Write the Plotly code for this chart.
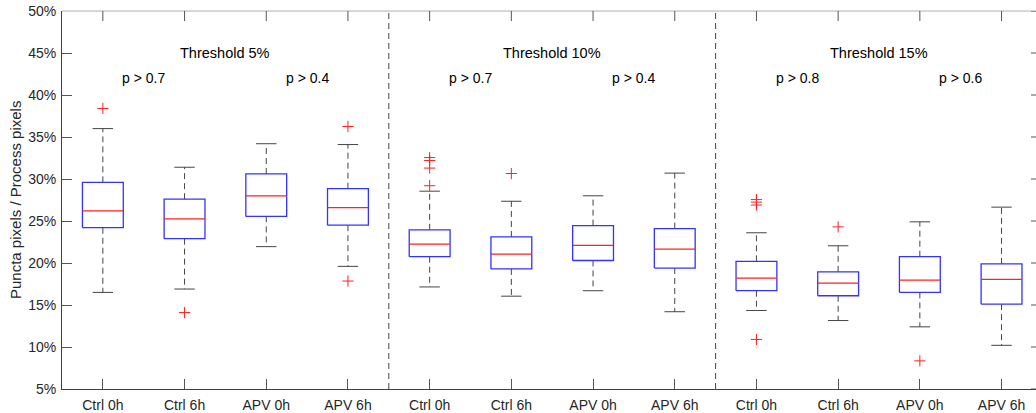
import plotly.graph_objects as go

# ---------------- data (percent) ----------------
categories = ["Ctrl 0h", "Ctrl 6h", "APV 0h", "APV 6h"] * 3
lower_whisker = [16.5, 16.9, 21.95, 19.6,
                 17.15, 16.05, 16.7, 14.2,
                 14.35, 13.15, 12.4, 10.2]
q1 = [24.2, 22.9, 25.55, 24.5,
      20.75, 19.3, 20.3, 19.4,
      16.7, 16.1, 16.5, 15.1]
median = [26.2, 25.25, 28.0, 26.6,
          22.25, 21.05, 22.1, 21.65,
          18.2, 17.6, 17.95, 18.05]
q3 = [29.6, 27.6, 30.6, 28.85,
      23.95, 23.1, 24.45, 24.1,
      20.2, 18.95, 20.75, 19.9]
upper_whisker = [36.0, 31.4, 34.2, 34.1,
                 28.55, 27.35, 28.0, 30.7,
                 23.6, 22.05, 24.9, 26.65]
outliers = [[38.4], [14.1], [], [36.25, 17.85],
            [32.55, 32.2, 31.3, 29.2], [30.65], [], [],
            [27.55, 27.25, 26.9, 10.9], [24.3], [8.35], []]

panel_titles = ["Threshold 5%", "Threshold 10%", "Threshold 15%"]
p_ctrl = ["p > 0.7", "p > 0.7", "p > 0.8"]
p_apv = ["p > 0.4", "p > 0.4", "p > 0.6"]
y_ticks = [5, 10, 15, 20, 25, 30, 35, 40, 45, 50]

# ---------------- geometry helpers ----------------
pos = list(range(1, len(categories) + 1))
BOX_HW = 0.25
CAP_HW = 0.125

box_x, box_y = [], []
med_x, med_y = [], []
wh_x, wh_y = [], []
cap_x, cap_y = [], []
out_x, out_y = [], []
for i, x in enumerate(pos):
    box_x += [x - BOX_HW, x + BOX_HW, x + BOX_HW, x - BOX_HW, x - BOX_HW, None]
    box_y += [q1[i], q1[i], q3[i], q3[i], q1[i], None]
    med_x += [x - BOX_HW, x + BOX_HW, None]
    med_y += [median[i], median[i], None]
    wh_x += [x, x, None, x, x, None]
    wh_y += [q3[i], upper_whisker[i], None, q1[i], lower_whisker[i], None]
    cap_x += [x - CAP_HW, x + CAP_HW, None, x - CAP_HW, x + CAP_HW, None]
    cap_y += [upper_whisker[i], upper_whisker[i], None,
              lower_whisker[i], lower_whisker[i], None]
    for v in outliers[i]:
        out_x.append(x)
        out_y.append(v)

fig = go.Figure()
fig.add_trace(go.Scatter(x=wh_x, y=wh_y, mode="lines",
                         line=dict(color="#444444", width=1, dash="6px,4px"),
                         hoverinfo="skip"))
fig.add_trace(go.Scatter(x=cap_x, y=cap_y, mode="lines",
                         line=dict(color="#444444", width=1),
                         hoverinfo="skip"))
fig.add_trace(go.Scatter(x=box_x, y=box_y, mode="lines",
                         line=dict(color="#3333ff", width=1.3),
                         hoverinfo="skip"))
fig.add_trace(go.Scatter(x=med_x, y=med_y, mode="lines",
                         line=dict(color="#ff2020", width=1.2),
                         hoverinfo="skip"))
fig.add_trace(go.Scatter(x=out_x, y=out_y, mode="markers",
                         marker=dict(symbol="cross-thin", size=8,
                                     line=dict(color="#ff2020", width=1)),
                         hoverinfo="skip"))

FONT = "Liberation Sans, Arial, Helvetica, sans-serif"
PLOT_W = 1036 - 62
PLOT_H = 413 - 11 - 24

shapes = []
# dashed separators between panels
for sep in [4.5, 8.5]:
    shapes.append(dict(type="line", xref="x", yref="paper", x0=sep, x1=sep,
                       y0=0, y1=1, line=dict(color="#444444", width=1,
                                             dash="6px,4px")))
# top border line
shapes.append(dict(type="line", xref="paper", yref="paper", x0=0, x1=1,
                   y0=1, y1=1, line=dict(color="#b0b0b0", width=1)))
# top ticks
for x in pos:
    shapes.append(dict(type="line", xref="x", yref="paper", x0=x, x1=x,
                       y0=1, y1=1 - 10 / PLOT_H,
                       line=dict(color="#555555", width=1)))
# right ticks (axis lies just beyond the image edge)
for t in y_ticks:
    shapes.append(dict(type="line", xref="paper", yref="y",
                       x0=1 - 5 / PLOT_W, x1=1, y0=t, y1=t,
                       line=dict(color="#555555", width=1)))

annotations = []
for k in range(3):
    base = 4 * k
    annotations.append(dict(x=base + 2.5, y=45, xref="x", yref="y",
                            text=panel_titles[k], showarrow=False,
                            font=dict(family=FONT, size=14.5, color="#000")))
    annotations.append(dict(x=base + 1.5, y=42, xref="x", yref="y",
                            text=p_ctrl[k], showarrow=False,
                            font=dict(family=FONT, size=14, color="#000")))
    annotations.append(dict(x=base + 3.5, y=42, xref="x", yref="y",
                            text=p_apv[k], showarrow=False,
                            font=dict(family=FONT, size=14, color="#000")))
annotations.append(dict(x=-47 / PLOT_W, y=0.5, xref="paper", yref="paper",
                        text="Puncta pixels / Process pixels", showarrow=False,
                        textangle=-90, xanchor="center", yanchor="middle",
                        font=dict(family=FONT, size=15, color="#262626")))

fig.update_layout(
    width=1036, height=413,
    margin=dict(l=62, r=0, t=11, b=24, pad=0),
    paper_bgcolor="white", plot_bgcolor="white",
    showlegend=False, hovermode=False,
    shapes=shapes, annotations=annotations,
    xaxis=dict(range=[0.5, 0.5 + PLOT_W / 81.7], tickmode="array",
               tickvals=pos, ticktext=categories,
               ticks="inside", ticklen=10, tickcolor="#555555",
               ticklabelstandoff=3,
               showline=True, linecolor="#404040", linewidth=1,
               showgrid=False, zeroline=False,
               tickfont=dict(family=FONT, size=14, color="#262626")),
    yaxis=dict(range=[5, 50], tickmode="array", tickvals=y_ticks,
               ticktext=[f"{t}%" for t in y_ticks],
               ticks="inside", ticklen=10, tickcolor="#555555",
               ticklabelstandoff=2,
               showline=True, linecolor="#404040", linewidth=1,
               showgrid=False, zeroline=False,
               tickfont=dict(family=FONT, size=14, color="#262626")),
)

fig.write_html("out.html")
